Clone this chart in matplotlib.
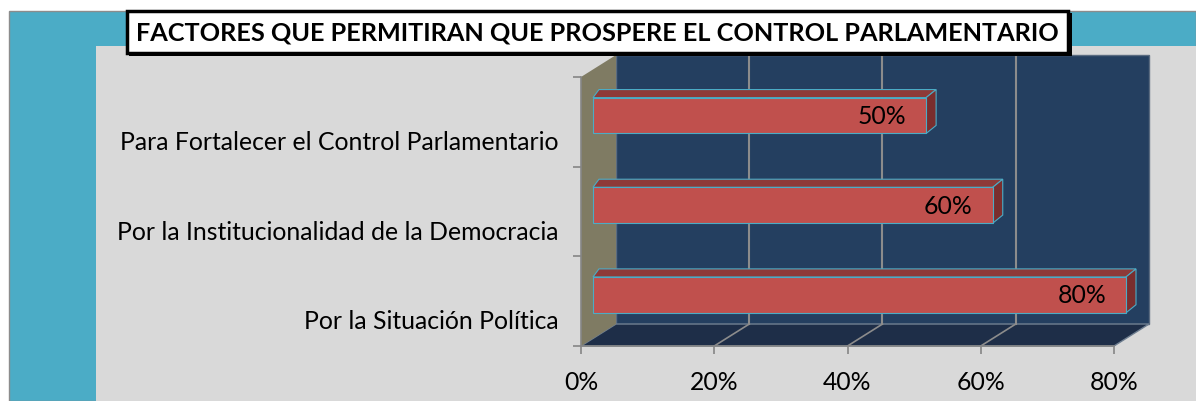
import matplotlib.pyplot as plt
from matplotlib.patches import Rectangle, Polygon
import numpy as np

# data (bottom to top)
categories = ['Por la Situación Política',
              'Por la Institucionalidad de la Democracia',
              'Para Fortalecer el Control Parlamentario']
values = [80, 60, 50]
xticks = [0, 20, 40, 60, 80]
title = 'FACTORES QUE PERMITIRAN QUE PROSPERE EL CONTROL PARLAMENTARIO'

plt.rcParams['font.family'] = ['Lato', 'DejaVu Sans']

W, H = 1196, 402
fig = plt.figure(figsize=(W / 100, H / 100), dpi=100)

def px(x, y, w, h):
    """pixel box (top-left origin) -> figure fraction rect"""
    return (x / W, 1 - (y + h) / H), w / W, h / H

# background: teal frame + grey plot area
xy, w, h = px(9, 12, W - 9, H - 12)
fig.patches.append(Rectangle(xy, w, h, transform=fig.transFigure, facecolor='#4BACC6',
                             edgecolor='#8C8C8C', lw=1, zorder=-2))
xy, w, h = px(96, 47, W - 96, H - 47)
fig.patches.append(Rectangle(xy, w, h, transform=fig.transFigure, facecolor='#D9D9D9',
                             edgecolor='none', zorder=-1))

# axes = front plane of the 3d box
ax = fig.add_axes([581 / W, 1 - 347 / H, (1114 - 581) / W, (347 - 78) / H])
ax.set_zorder(1)
ax.set_facecolor('none')
ax.set_xlim(0, 80)
ax.set_ylim(0, 3)

DX, DY = 5.25, 0.245   # depth of walls
BX, BY = 1.8, 0.07     # bar front offset
SX, SY = 1.5, 0.09     # bar depth
BH = 0.40              # bar height
FS = 17.8

wall = '#243F60'
floor = '#1E2E48'
side = '#7F7B63'
grid = '#8C8C8C'

# back wall, floor, left wall
ax.add_patch(Polygon([(DX, DY), (80 + DX, DY), (80 + DX, 3 + DY), (DX, 3 + DY)],
                     closed=True, facecolor=wall, edgecolor='#5A6B80', lw=1, clip_on=False, zorder=1))
ax.add_patch(Polygon([(0, 0), (80, 0), (80 + DX, DY), (DX, DY)],
                     closed=True, facecolor=floor, edgecolor='#6E7E90', lw=1, clip_on=False, zorder=1))
ax.add_patch(Polygon([(0, 0), (DX, DY), (DX, 3 + DY), (0, 3)],
                     closed=True, facecolor=side, edgecolor='none', clip_on=False, zorder=1))

# gridlines on back wall and floor
for t in xticks[1:-1]:
    ax.plot([t + DX, t + DX], [DY, 3 + DY], color=grid, lw=1.5, zorder=2, clip_on=False)
    ax.plot([t, t + DX], [0, DY], color=grid, lw=1.2, zorder=2, clip_on=False)

# 3d bars
edge = '#4BACC6'
for i, v in enumerate(values):
    y0 = i + 0.5 - BH / 2 + BY
    y1 = y0 + BH
    x0, x1 = BX, BX + v
    ax.add_patch(Polygon([(x0, y1), (x1, y1), (x1 + SX, y1 + SY), (x0 + SX * 0.6, y1 + SY)],
                         closed=True, facecolor='#8E3A38', edgecolor=edge, lw=0.8,
                         clip_on=False, zorder=3))
    ax.add_patch(Polygon([(x1, y0), (x1 + SX, y0 + SY), (x1 + SX, y1 + SY), (x1, y1)],
                         closed=True, facecolor='#7A2E2E', edgecolor=edge, lw=0.8,
                         clip_on=False, zorder=3))
    ax.add_patch(Rectangle((x0, y0), v, BH, facecolor='#C0504D', edgecolor=edge, lw=0.8,
                           clip_on=False, zorder=4))
    ax.text(x1 - 3.0, (y0 + y1) / 2, f'{v}%', ha='right', va='center',
            fontsize=FS, color='black', zorder=5)

# category labels
for i, c in enumerate(categories):
    ax.text(-3.4, i + 0.5 - 0.22, c, ha='right', va='center', fontsize=FS,
            color='black', clip_on=False)

ax.set_xticks(xticks)
ax.set_xticklabels([f'{t}%' for t in xticks], fontsize=FS)
ax.set_yticks([0, 1, 2, 3])
ax.set_yticklabels([])
ax.tick_params(axis='both', colors='#868686', length=6, width=1.2, labelcolor='black')
ax.tick_params(axis='x', pad=11)
for s in ['top', 'right']:
    ax.spines[s].set_visible(False)
for s in ['left', 'bottom']:
    ax.spines[s].set_color('#868686')
    ax.spines[s].set_linewidth(1.2)
    ax.spines[s].set_zorder(6)

# title box with shadow
xy, w, h = px(129, 14, 943, 43)
fig.patches.append(Rectangle(xy, w, h, transform=fig.transFigure, facecolor='black',
                             edgecolor='none', zorder=5))
xy, w, h = px(127, 12, 941, 42)
fig.patches.append(Rectangle(xy, w, h, transform=fig.transFigure, facecolor='white',
                             edgecolor='black', lw=2.5, zorder=6))
fig.text((127 + 941 / 2) / W, 1 - 33 / H, title, ha='center', va='center',
         fontsize=18.2, fontweight='bold', zorder=7)

fig.savefig('out.png', dpi=100)
